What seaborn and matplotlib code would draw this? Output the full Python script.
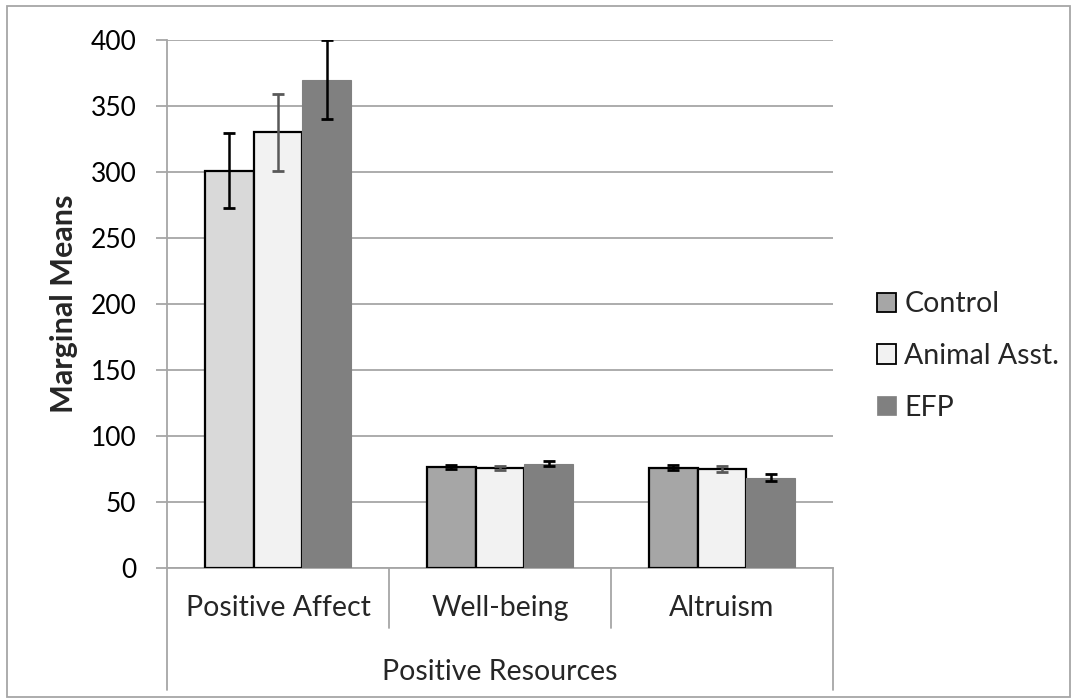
import numpy as np
import pandas as pd
import matplotlib
matplotlib.use("Agg")
import matplotlib.pyplot as plt
import matplotlib.transforms as mtransforms
from matplotlib.patches import Patch, Rectangle
import seaborn as sns

categories = ["Positive Affect", "Well-being", "Altruism"]
groups = ["Control", "Animal Asst.", "EFP"]
control_vals = [301, 76.5, 76]
animal_vals = [330, 75.5, 75]
efp_vals = [370, 79, 68.5]
control_err = [28.5, 1.8, 2.0]
animal_err = [29, 1.6, 2.0]
efp_err = [30, 2.0, 2.5]
super_label = "Positive Resources"

sns.set_theme(style="white")
plt.rcParams["font.family"] = ["Lato", "DejaVu Sans"]

FS = 20.5

rows = []
for i, c in enumerate(categories):
    for g, vals, errs in zip(groups, [control_vals, animal_vals, efp_vals],
                             [control_err, animal_err, efp_err]):
        rows.append({"category": c, "group": g, "value": vals[i], "err": errs[i]})
df = pd.DataFrame(rows)

palette = {"Control": "#a6a6a6", "Animal Asst.": "#f2f2f2", "EFP": "#808080"}

fig = plt.figure(figsize=(10.77, 7.0), dpi=100)
ax = fig.add_axes([167 / 1077, (700 - 568) / 700, (833 - 167) / 1077, 528 / 700])

sns.barplot(data=df, x="category", y="value", hue="group", order=categories,
            hue_order=groups, palette=palette, width=0.66, gap=0, errorbar=None,
            legend=False, ax=ax, zorder=3)

bar_edge = {"Control": "black", "Animal Asst.": "black", "EFP": "#808080"}
err_color = {"Control": "black", "Animal Asst.": "#595959", "EFP": "black"}
for gi, (g, cont) in enumerate(zip(groups, ax.containers)):
    sub = df[df["group"] == g].set_index("category").loc[categories]
    for ci, bar in enumerate(cont.patches):
        bar.set_edgecolor(bar_edge[g])
        bar.set_linewidth(1.6 if g != "EFP" else 0.8)
        if g == "Control" and ci == 0:
            bar.set_facecolor("#d9d9d9")
        xc = bar.get_x() + bar.get_width() / 2
        ax.errorbar(xc, bar.get_height(), yerr=sub["err"].iloc[ci], fmt="none",
                    ecolor=err_color[g], elinewidth=1.8, capsize=4.5,
                    capthick=2.0, zorder=4)

ax.set_ylim(0, 400)
ax.set_xlim(-0.5, 2.5)
ax.set_yticks(np.arange(0, 401, 50))
ax.yaxis.grid(True, color="#a6a6a6", linewidth=1.3, zorder=0)
ax.set_axisbelow(True)
for s in ["top", "right"]:
    ax.spines[s].set_visible(False)
ax.spines["left"].set_color("#a6a6a6")
ax.spines["left"].set_linewidth(1.3)
ax.spines["bottom"].set_color("#a6a6a6")
ax.spines["bottom"].set_linewidth(1.3)
ax.tick_params(axis="y", which="major", left=True, length=8, width=1.3,
               color="#a6a6a6", pad=14, labelsize=19, labelcolor="black")
ax.tick_params(axis="x", bottom=False, labelbottom=False)
ax.set_xlabel("")
ax.set_ylabel("Marginal Means", fontsize=22, fontweight="bold", labelpad=9)

trans = mtransforms.blended_transform_factory(ax.transData, ax.transAxes)
h_inner = (628 - 568) / 528
h_outer = (690 - 568) / 528
for xb in [-0.5, 0.5, 1.5, 2.5]:
    h = h_outer if xb in (-0.5, 2.5) else h_inner
    ax.plot([xb, xb], [0, -h], transform=trans, color="#a6a6a6",
            linewidth=1.3, clip_on=False)
for i, c in enumerate(categories):
    ax.text(i, -(608 - 568) / 528, c, transform=trans, ha="center",
            va="center", fontsize=FS)
ax.text(1, -(672 - 568) / 528, super_label, transform=trans, ha="center",
        va="center", fontsize=FS)

handles = [Patch(facecolor="#a6a6a6", edgecolor="black", linewidth=1.3),
           Patch(facecolor="#f2f2f2", edgecolor="black", linewidth=1.3),
           Patch(facecolor="#808080", edgecolor="#808080", linewidth=0.5)]
fig.legend(handles, groups, loc="center left",
           bbox_to_anchor=(868 / 1077, 1 - 356 / 700), frameon=False,
           fontsize=FS, handlelength=0.67, handleheight=0.67,
           handletextpad=0.3, labelspacing=0.9, borderaxespad=0, borderpad=0.3)

fig.patches.append(Rectangle((7 / 1077, 3 / 700), 1063 / 1077, 691 / 700,
                             transform=fig.transFigure, fill=False,
                             edgecolor="#a6a6a6", linewidth=1.3))

fig.savefig("out.png", dpi=100)
